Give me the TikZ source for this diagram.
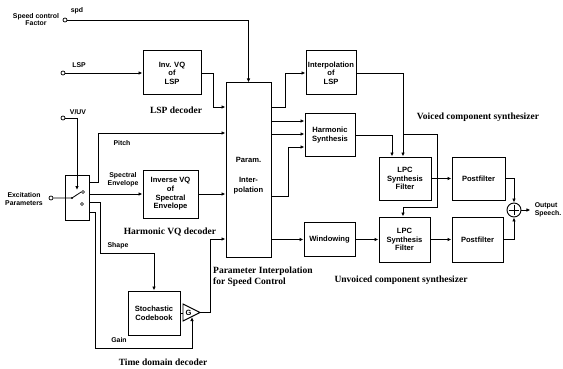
\documentclass[tikz,border=0pt]{standalone}
\usepackage{fontspec}
\setmainfont{Liberation Serif}
\setsansfont{Liberation Sans}
\usetikzlibrary{arrows.meta,calc}
\tikzset{
 blk/.style={draw, line width=1pt, inner sep=0pt, align=center, font=\sffamily\bfseries\fontsize{7.6}{8.6}\selectfont},
 lab/.style={font=\sffamily\bfseries\fontsize{6.9}{7.9}\selectfont, align=center, inner sep=0pt},
 captxt/.style={font=\rmfamily\bfseries\fontsize{9.5}{11}\selectfont, align=left, inner sep=0pt},
 term/.style={circle, draw, line width=0.7pt, inner sep=0pt, minimum size=4pt, fill=white},
 wire/.style={line width=0.8pt},
 arr/.style={wire, -{Latex[length=4pt,width=3.5pt]}},
}
\begin{document}
\begin{tikzpicture}[x=1pt,y=-1pt]
\useasboundingbox (0,0) rectangle (563,369);
% blocks
\node[blk, minimum width=58pt, minimum height=44pt] (invlsp) at (172,73) {Inv. VQ\\of\\LSP};
\node[blk, minimum width=45pt, minimum height=174pt] (param) at (248.5,170) {};
\node[lab, font=\sffamily\bfseries\fontsize{7.6}{10}\selectfont] (paramtxt) at (248.5,176) {Param.\\[10pt]Inter-\\polation};
\node[blk, minimum width=50pt, minimum height=44pt] (interp) at (331,73) {Interpolation\\of\\LSP};
\node[blk, minimum width=50pt, minimum height=42pt] (harm) at (330,135) {Harmonic\\Synthesis};
\node[blk, minimum width=55pt, minimum height=48pt] (invse) at (170.5,194) {Inverse VQ\\of\\Spectral\\Envelope};
\node[blk, minimum width=51pt, minimum height=34pt] (window) at (329.5,239.5) {Windowing};
\node[blk, minimum width=52pt, minimum height=43pt] (lpc1) at (405,178.5) {LPC\\Synthesis\\Filter};
\node[blk, minimum width=53pt, minimum height=43pt] (post1) at (478.5,178.5) {Postfilter};
\node[blk, minimum width=51pt, minimum height=45pt] (lpc2) at (404.5,239.5) {LPC\\Synthesis\\Filter};
\node[blk, minimum width=51pt, minimum height=45pt] (post2) at (477.5,239.5) {Postfilter};
\node[blk, minimum width=52pt, minimum height=44pt] (cb) at (154,313) {Stochastic\\Codebook};
\node[circle, draw, line width=0.9pt, minimum size=14pt, inner sep=0pt] (sum) at (514,210) {};
\draw[line width=1pt] ($(sum.north)+(0,2)$) -- ($(sum.south)+(0,-2)$);
\draw[line width=1pt] ($(sum.west)+(2,0)$) -- ($(sum.east)+(-2,0)$);
% switch
\node[draw, line width=1pt, minimum width=24pt, minimum height=45pt, inner sep=0pt] (sw) at (77,197.5) {};
\coordinate (sP) at ($(sw.north east)+(0,8)$);
\coordinate (sS) at ($(sw.north east)+(0,28)$);
\coordinate (sG) at ($(sw.north east)+(0,38)$);
% terminals
\node[term] (cspd) at (65,20) {};
\node[term] (clsp) at (63,73) {};
\node[term] (cvuv) at (63,118) {};
\node[term] (cexc) at (51,198) {};
\coordinate (piv) at (72,198);
\node[term, minimum size=3pt] (k1) at (83,192) {};
\node[term, minimum size=3pt] (k2) at (82,204) {};
\draw[wire] (cexc.east) -- (piv) -- (k1.west);
\fill (piv) circle (1.2pt);
% amplifier
\coordinate (ampL1) at (183,304);
\coordinate (ampL2) at (183,321);
\coordinate (ampT) at (200,312.5);
\draw[line width=0.9pt] (ampL1) -- (ampT) -- (ampL2) -- cycle;
\node[lab, font=\sffamily\bfseries\fontsize{7.6}{8}\selectfont] (ampg) at (188.5,312.5) {G};
\coordinate (ampb) at (192,317);
% connectors
\draw[arr] (cspd.east) -| (param.north);
\draw[arr] (clsp.east) -- (invlsp.west);
\draw[arr] (invlsp.east) -- ++(12,0) |- (param.west |- 0,107);
\draw[arr] (cvuv.east) -| (77,190);
\draw[arr] (sP) -- ++(9,0) |- (param.west |- 0,133);
\draw[arr] (sw.east |- invse.west) -- (invse.west);
\draw[arr] (invse.east) -- (param.west |- invse.east);
\draw[arr] (sS) -| (100,253) -| (cb.north);
\draw[arr] (sG) -| (95,348) -| (ampb);
\draw[wire] (cb.east) -- (ampL1 |- cb.east);
\draw[arr] (ampT) -- ++(10,0) |- (param.west |- 0,239);
\draw[arr] (param.east |- 0,107) -- ++(14,0) |- (interp.west);
\draw[arr] (param.east |- 0,121) -- (harm.west |- 0,121);
\draw[arr] (param.east |- 0,134) -- (harm.west |- 0,134);
\draw[arr] (param.east |- 0,196) -- ++(17,0) |- (harm.west |- 0,147);
\draw[arr] (param.east |- window.west) -- (window.west);
\draw[arr] (window.east) -- (lpc2.west |- window.east);
\draw[arr] (interp.east) -| (lpc1.north -| 403,0);
\coordinate (br) at (403,134);
\draw[arr] (br) -- (437,134) |- (403,207) -- (lpc2.north -| 403,0);
\draw[arr] (harm.east) -| (lpc1.north -| 392,0);
\draw[arr] (lpc1.east) -- (post1.west);
\draw[arr] (lpc2.east) -- (post2.west);
\draw[arr] (post1.east) -| (sum.north);
\draw[arr] (post2.east) -| (sum.south);
\draw[arr] (sum.east) -- ++(9,0) coordinate (outc);
% labels
\node[lab] (tspd) at (36,19.5) {Speed control\\Factor};
\node[lab] (tspd2) at (77,11) {spd};
\node[lab] (tlsp) at (79,65) {LSP};
\node[lab] (tvuv) at (78,112) {V/UV};
\node[lab] (texc) at (24,199) {Excitation\\Parameters};
\node[lab] (tpitch) at (122,143) {Pitch};
\node[lab] (tspec) at (123,180) {Spectral\\Envelope};
\node[lab] (tshape) at (118,246) {Shape};
\node[lab] (tgain) at (119,340) {Gain};
\node[lab, align=left] (tout) at (548,210) {Output\\Speech.};
\node[captxt] (clsp2) at (176,110) {LSP decoder};
\node[captxt] (charm) at (170,232) {Harmonic VQ decoder};
\node[captxt, anchor=west] (cpar) at (213,276.5) {Parameter Interpolation\\for Speed Control};
\node[captxt] (ctime) at (163,362) {Time domain decoder};
\node[captxt] (cvoice) at (478,117) {Voiced component synthesizer};
\node[captxt] (cunv) at (401,280) {Unvoiced component synthesizer};
\end{tikzpicture}
\end{document}
